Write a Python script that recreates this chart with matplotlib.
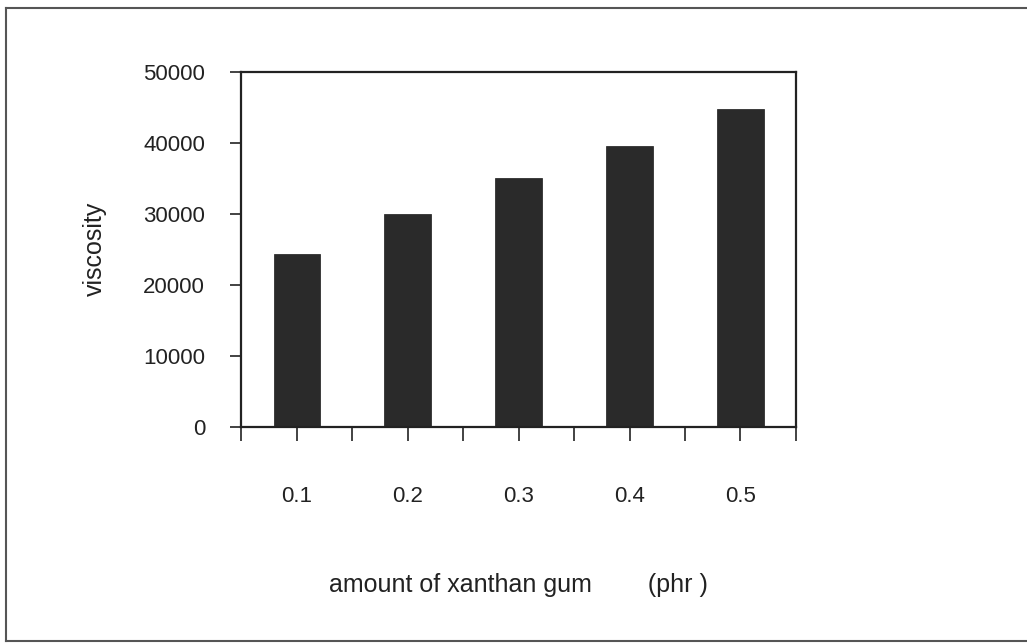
import matplotlib
matplotlib.use("Agg")
import matplotlib.pyplot as plt
from matplotlib.lines import Line2D

# values
amounts = ["0.1", "0.2", "0.3", "0.4", "0.5"]
viscosity = [24300, 30000, 35000, 39600, 44700]
yticks = [0, 10000, 20000, 30000, 40000, 50000]

plt.rcParams["font.family"] = ["Liberation Sans", "DejaVu Sans"]

fig = plt.figure(figsize=(10.27, 6.43), dpi=100)
ax = fig.add_axes([0.235, 0.3364, 0.540, 0.5521])

x = list(range(len(amounts)))
ax.bar(x, viscosity, width=0.42, color="#2a2a2a", edgecolor="#1a1a1a", linewidth=0.5)

ax.set_xlim(-0.5, len(amounts) - 0.5)
ax.set_ylim(0, 50000)
ax.set_yticks(yticks)
ax.set_yticklabels([str(v) for v in yticks])
ax.set_xticks(x)
ax.set_xticklabels(amounts)
ax.set_xticks([i - 0.5 for i in range(len(amounts) + 1)], minor=True)

ax.tick_params(axis="y", direction="out", length=8, width=1.2, pad=18, labelsize=16, colors="#222222")
ax.tick_params(axis="x", which="both", direction="out", length=10, width=1.2, colors="#222222")
ax.tick_params(axis="x", which="major", pad=33, labelsize=16)

for s in ax.spines.values():
    s.set_linewidth(1.6)
    s.set_color("#222222")

ax.set_ylabel("viscosity", fontsize=18, color="#222222", labelpad=26)
ax.set_xlabel("amount of xanthan gum        (phr )", fontsize=18, color="#222222", labelpad=47)

# outer frame of the scanned figure
kw = dict(transform=fig.transFigure, color="#555555", linewidth=1.5)
fig.add_artist(Line2D([0.006, 0.006], [0.003, 0.9876], **kw))
fig.add_artist(Line2D([0.006, 1.0], [0.9876, 0.9876], **kw))
fig.add_artist(Line2D([0.006, 1.0], [0.003, 0.003], **kw))

fig.savefig("out.png", dpi=100)
